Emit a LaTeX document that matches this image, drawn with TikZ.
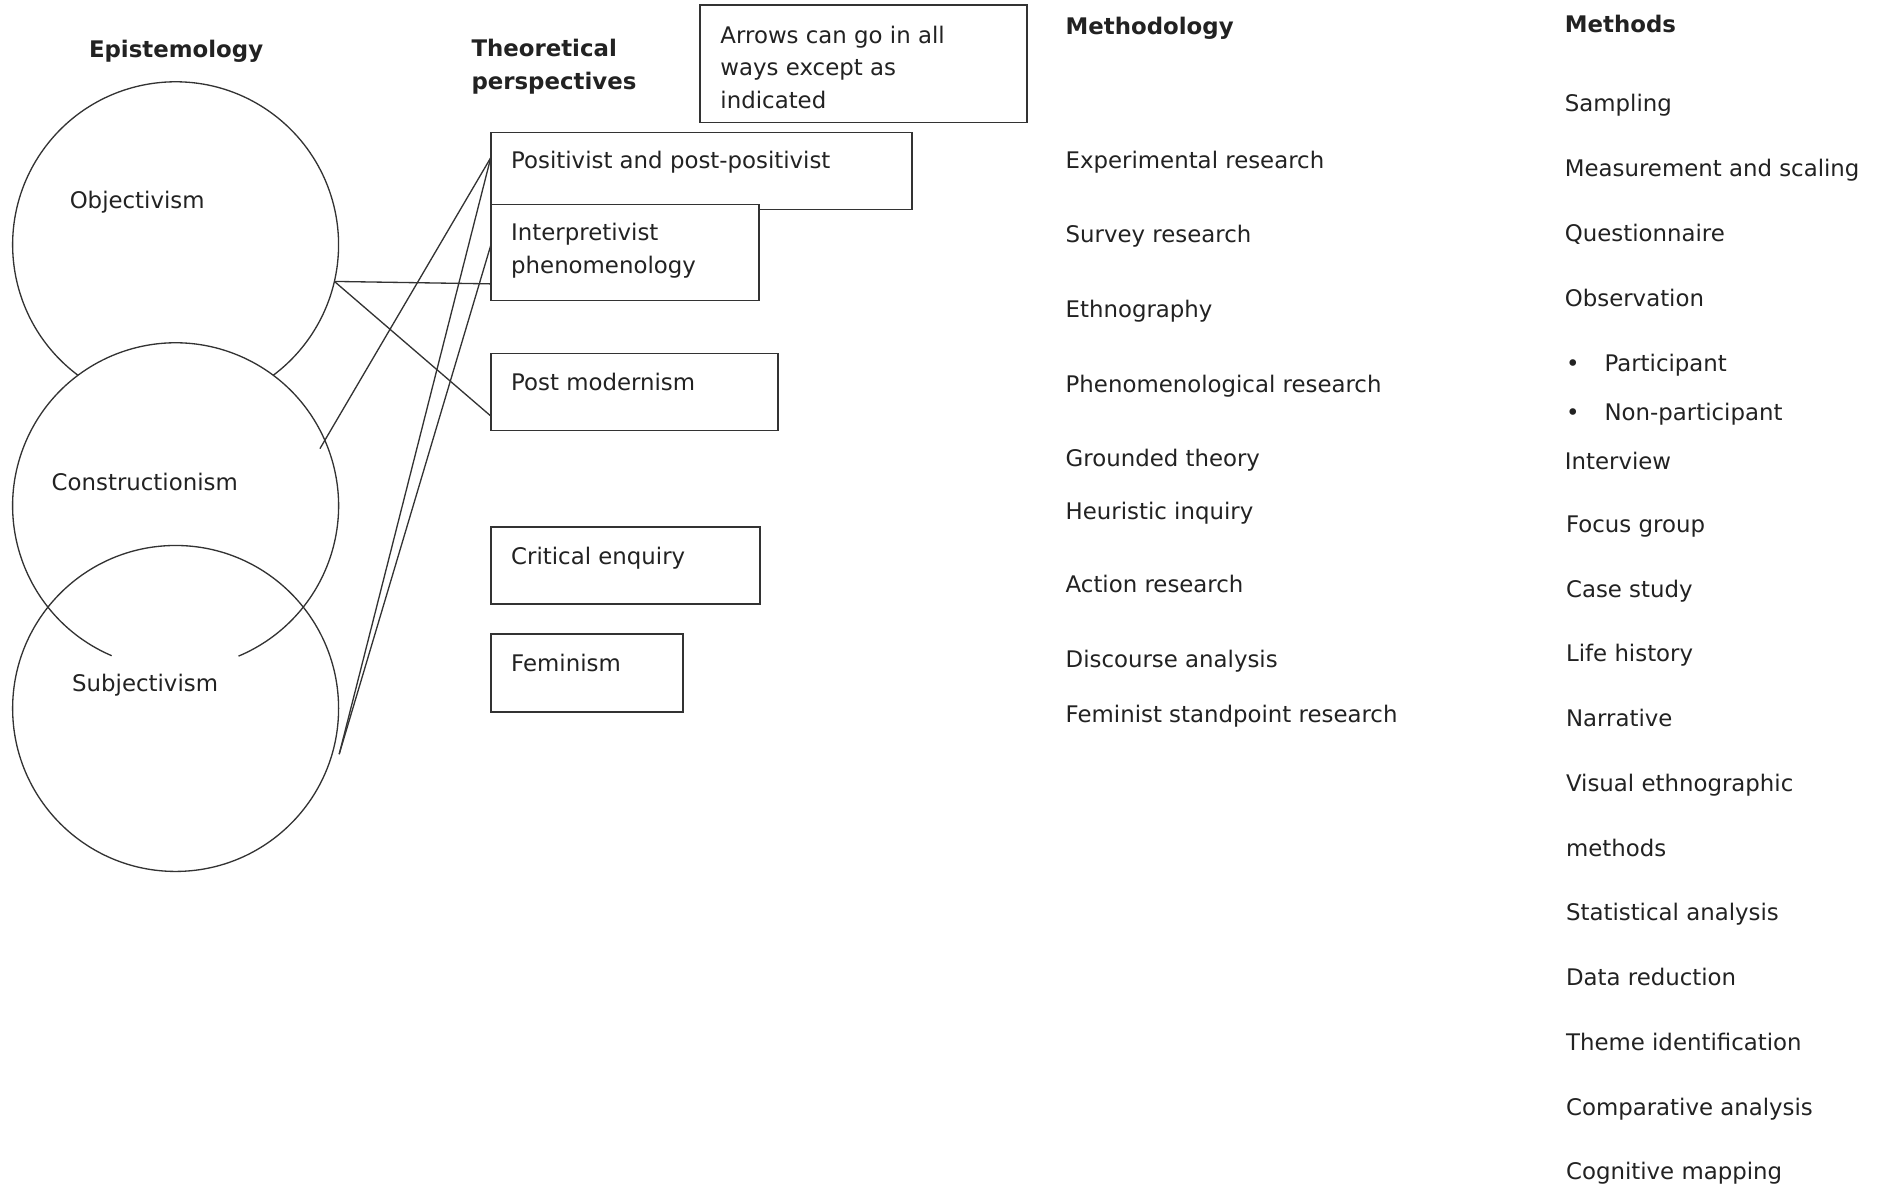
\documentclass[tikz,border=0pt]{standalone}
\usepackage{fontspec}
\setmainfont{DejaVu Sans}
\usetikzlibrary{calc}
\definecolor{ink}{HTML}{222222}
\definecolor{stroke}{HTML}{333333}
\begin{document}
\begin{tikzpicture}[x=1pt,y=-1pt,
  every node/.style={inner sep=0pt, outer sep=0pt, text=ink},
  lbl/.style={anchor=base west, font=\fontsize{19}{27}\selectfont, align=left},
  head/.style={anchor=base west, font=\fontsize{19}{27}\selectfont\bfseries, align=left},
  box/.style={draw=stroke, line width=1.3pt, fill=white, anchor=north west, rectangle},
  ring/.style={circle, minimum size=271},
  link/.style={draw=stroke, line width=1.1pt},
]
\useasboundingbox (0,0) rectangle (1568,987);

% column headings (multi-line nodes sit on the baseline of their last line)
\node[head] (hEpi)  at (74,48)   {Epistemology};
\node[head] (hTheo) at (392,74)  {Theoretical\\perspectives};
\node[head] (hMeth) at (886,29)  {Methodology};
\node[head] (hMtds) at (1301,27) {Methods};

% note box
\node[box, minimum width=272, minimum height=98] (note) at (582,4) {};
\node[lbl] (noteT) at (599,90) {Arrows can go in all\\ways except as\\indicated};

% epistemology circles
\node[ring] (objc)  at (146,203.5) {};
\node[ring] (consc) at (146,420.5) {};
\node[ring] (subjc) at (146,589)   {};
\draw[link] (objc) ++(126.8:135.5) arc[start angle=126.8, end angle=413.2, radius=135.5];
\draw[link] (consc) ++(113.1:135.5) arc[start angle=113.1, end angle=427.3, radius=135.5];
\draw[link] (subjc) circle[radius=135.5];
\node[lbl] (objT)  at (58,173)  {Objectivism};
\node[lbl] (consT) at (43,408)  {Constructionism};
\node[lbl] (subjT) at (60,575)  {Subjectivism};

% theoretical perspectives
\node[box, minimum width=350, minimum height=64] (pos)     at (408,110) {};
\node[box, minimum width=223, minimum height=80] (interp)  at (408,170) {};
\node[box, minimum width=239, minimum height=64] (postmod) at (408,294) {};
\node[box, minimum width=224, minimum height=64] (crit)    at (408,438) {};
\node[box, minimum width=160, minimum height=65] (fem)     at (408,527) {};
\node[lbl] (posT)     at (425,140) {Positivist and post-positivist};
\node[lbl] (interpT)  at (425,227) {Interpretivist\\phenomenology};
\node[lbl] (postmodT) at (425,325) {Post modernism};
\node[lbl] (critT)    at (425,469) {Critical enquiry};
\node[lbl] (femT)     at (425,558) {Feminism};

% connectors
\coordinate (consEnd) at (266,373);
\coordinate (subjEnd) at (282,627);
\draw[link] (objc.-13) -- ($(interp.north west)!0.825!(interp.south west)$);
\draw[link] (objc.-13) -- ($(postmod.north west)!0.81!(postmod.south west)$);
\draw[link] ($(pos.north west)!0.33!(pos.south west)$) -- (consEnd);
\draw[link] ($(pos.north west)!0.33!(pos.south west)$) -- (subjEnd);
\draw[link] ($(interp.north west)!0.425!(interp.south west)$) -- (subjEnd);

% methodology
\node[lbl] (m1) at (886,140) {Experimental research};
\node[lbl] (m2) at (886,202) {Survey research};
\node[lbl] (m3) at (886,264) {Ethnography};
\node[lbl] (m4) at (886,326) {Phenomenological research};
\node[lbl] (m5) at (886,388) {Grounded theory};
\node[lbl] (m6) at (886,432) {Heuristic inquiry};
\node[lbl] (m7) at (886,493) {Action research};
\node[lbl] (m8) at (886,555) {Discourse analysis};
\node[lbl] (m9) at (886,601) {Feminist standpoint research};

% methods
\node[lbl] (d1)  at (1301,93)  {Sampling};
\node[lbl] (d2)  at (1301,147) {Measurement and scaling};
\node[lbl] (d3)  at (1301,201) {Questionnaire};
\node[lbl] (d4)  at (1301,255) {Observation};
\node[lbl] (b1)  at (1302,309) {•};
\node[lbl] (d5)  at (1334,309) {Participant};
\node[lbl] (b2)  at (1302,350) {•};
\node[lbl] (d6)  at (1334,350) {Non-participant};
\node[lbl] (d7)  at (1301,390) {Interview};
\node[lbl] (d8)  at (1302,443) {Focus group};
\node[lbl] (d9)  at (1302,497) {Case study};
\node[lbl] (d10) at (1302,550) {Life history};
\node[lbl] (d11) at (1302,604) {Narrative};
\node[lbl] (d12) at (1302,658) {Visual ethnographic};
\node[lbl] (d13) at (1302,712) {methods};
\node[lbl] (d14) at (1302,765) {Statistical analysis};
\node[lbl] (d15) at (1302,819) {Data reduction};
\node[lbl] (d16) at (1302,873) {Theme identification};
\node[lbl] (d17) at (1302,927) {Comparative analysis};
\node[lbl] (d18) at (1302,981) {Cognitive mapping};
\end{tikzpicture}
\end{document}
